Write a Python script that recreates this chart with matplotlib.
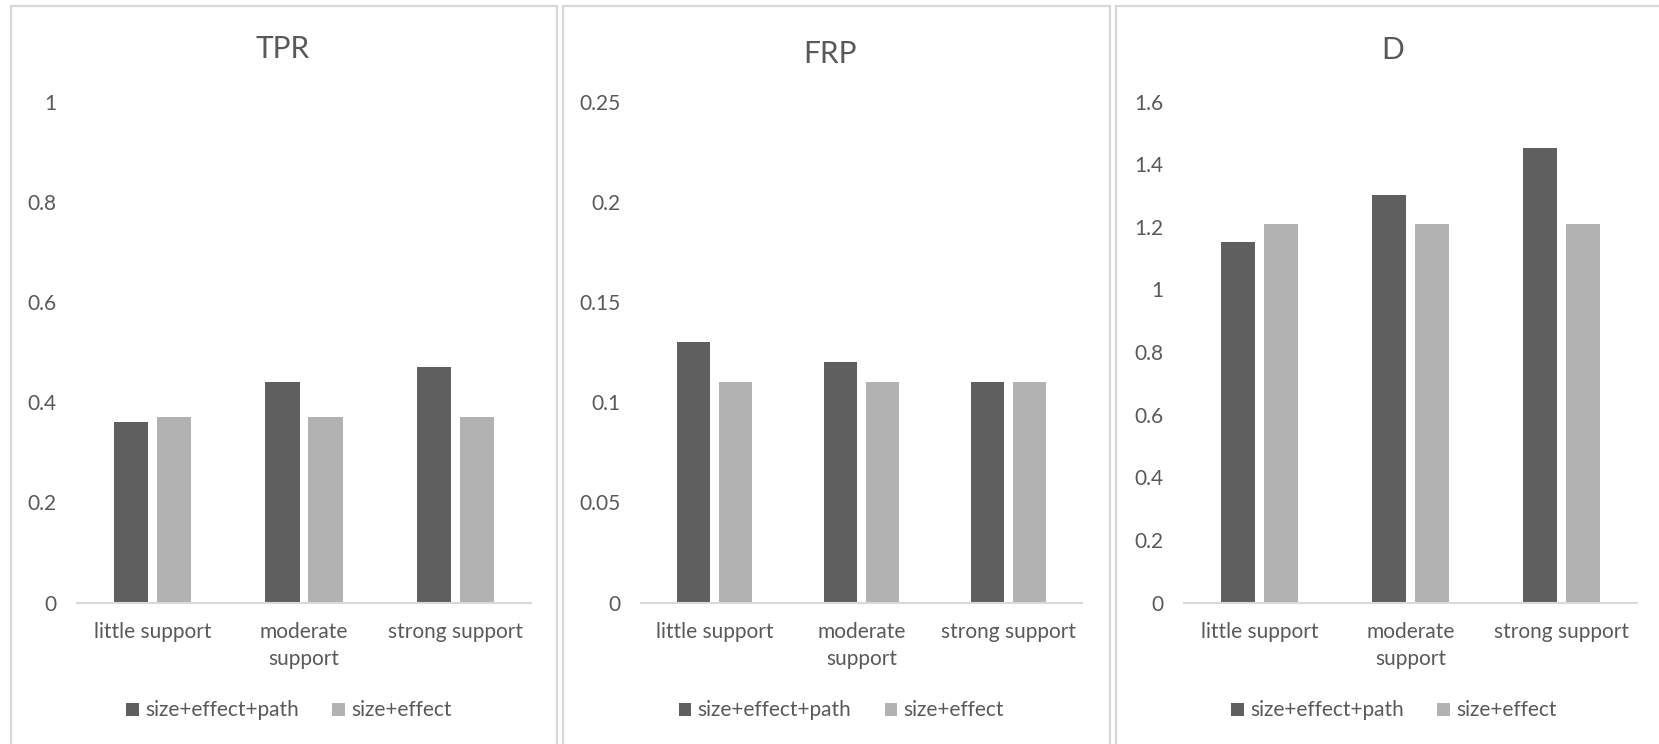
import numpy as np
import matplotlib
matplotlib.use("Agg")
import matplotlib.pyplot as plt
from matplotlib.patches import Rectangle, Patch

plt.rcParams['font.family'] = ['Lato', 'DejaVu Sans']

categories = ["little support", "moderate\nsupport", "strong support"]
series_names = ["size+effect+path", "size+effect"]

tpr_path = [0.36, 0.44, 0.47]
tpr_base = [0.37, 0.37, 0.37]
frp_path = [0.13, 0.12, 0.11]
frp_base = [0.11, 0.11, 0.11]
d_path = [1.15, 1.30, 1.45]
d_base = [1.21, 1.21, 1.21]

titles = ["TPR", "FRP", "D"]
y_ticks = [
    [0, 0.2, 0.4, 0.6, 0.8, 1],
    [0, 0.05, 0.1, 0.15, 0.2, 0.25],
    [0, 0.2, 0.4, 0.6, 0.8, 1, 1.2, 1.4, 1.6],
]
y_tick_labels = [
    ["0", "0.2", "0.4", "0.6", "0.8", "1"],
    ["0", "0.05", "0.1", "0.15", "0.2", "0.25"],
    ["0", "0.2", "0.4", "0.6", "0.8", "1", "1.2", "1.4", "1.6"],
]

DARK = "#5f5f5f"
LIGHT = "#b2b2b2"
TEXT = "#595959"
FRAME = "#d9d9d9"

W, H = 1659, 744
fig = plt.figure(figsize=(W / 100, H / 100), dpi=100)

# pixel layout of each chart box: frame left/right, plot left/right, title centre
panels = [
    dict(frame=(11, 557), plot=(77, 531), title=(283, 49)),
    dict(frame=(563, 1110), plot=(641, 1082), title=(830, 54)),
    dict(frame=(1116, 1662), plot=(1184, 1637), title=(1393, 50)),
]
plot_top, plot_bottom = 101.5, 602.7

data = [(tpr_path, tpr_base), (frp_path, frp_base), (d_path, d_base)]

for i, p in enumerate(panels):
    fl, fr = p["frame"]
    fig.patches.append(Rectangle((fl / W, -0.05), (fr - fl) / W, 1.05 - 6 / H,
                                 transform=fig.transFigure, fill=False,
                                 edgecolor=FRAME, linewidth=1.6, clip_on=False))

    pl, pr = p["plot"]
    ax = fig.add_axes([pl / W, 1 - plot_bottom / H, (pr - pl) / W,
                       (plot_bottom - plot_top) / H])
    x = np.arange(len(categories))
    a, b = data[i]
    ax.bar(x - 0.142, a, width=0.225, color=DARK)
    ax.bar(x + 0.142, b, width=0.225, color=LIGHT)
    ax.set_xlim(-0.5, 2.5)
    ax.set_ylim(0, y_ticks[i][-1])
    ax.set_yticks(y_ticks[i])
    ax.set_yticklabels(y_tick_labels[i])
    ax.set_xticks(x)
    ax.set_xticklabels(categories, linespacing=1.45)
    ax.tick_params(axis='both', length=0, labelsize=15, labelcolor=TEXT)
    ax.tick_params(axis='y', pad=15)
    ax.tick_params(axis='x', pad=14)
    for s in ["top", "right", "left"]:
        ax.spines[s].set_visible(False)
    ax.spines["bottom"].set_color(FRAME)
    ax.spines["bottom"].set_linewidth(1.5)

    tx, ty = p["title"]
    fig.text(tx / W, 1 - ty / H, titles[i], ha='center', va='center',
             fontsize=21.5, color=TEXT)

    handles = [Patch(facecolor=DARK), Patch(facecolor=LIGHT)]
    fig.legend(handles, series_names, loc='center',
               bbox_to_anchor=((fl + fr) / 2 / W + 5 / W, 1 - 710.5 / H),
               ncol=2, frameon=False, fontsize=15, labelcolor=TEXT,
               handlelength=0.6, handleheight=0.6, handletextpad=0.3,
               columnspacing=1.6)

fig.savefig("out.png", dpi=100)
